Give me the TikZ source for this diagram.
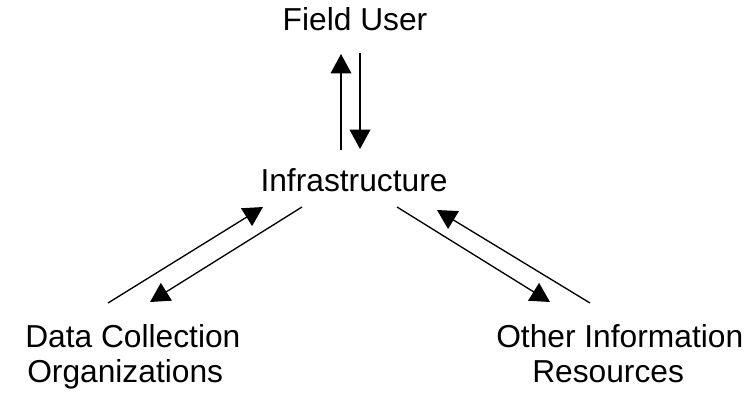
\documentclass[tikz,border=0pt]{standalone}
\usepackage{fontspec}
\setmainfont{Liberation Sans}
\usetikzlibrary{arrows.meta}

\tikzset{
	lbl/.style={inner sep=0pt,font=\fontsize{23.8}{26.25}\selectfont},
	flow/.style={line width=1pt,-{Triangle[length=14.5pt,width=15.5pt]}}
}

\begin{document}
\begin{tikzpicture}[x=0.75pt,y=-0.75pt]
		\useasboundingbox (0,0) rectangle (746,396);
		% texts
		\node[lbl,anchor=base] (user) at (355,31) {Field User};
		\node[lbl,anchor=base] (infra) at (354,191) {Infrastructure};
		\node[lbl,anchor=north west,align=left] (dco) at (25,324) {Data Collection\\\hspace*{1.5pt}Organizations};
		\node[lbl,anchor=north west,align=left] (oir) at (496,324) {Other Information\\\hspace*{27pt}Resources};
		% arrow ends
		\coordinate (U0) at (341,150);
		\coordinate (U1) at (341,54);
		\coordinate (D0) at (360,53);
		\coordinate (D1) at (360,149);
		\coordinate (L0) at (108,303);
		\coordinate (L1) at (263,207);
		\coordinate (L2) at (302,207);
		\coordinate (L3) at (150,302);
		\coordinate (R0) at (397,207);
		\coordinate (R1) at (550,302);
		\coordinate (R2) at (590,303);
		\coordinate (R3) at (437,210);
		\foreach \a/\b in {U0/U1,D0/D1,L0/L1,L2/L3,R0/R1,R2/R3}
		\draw[flow] (\a) -- (\b);
	    \end{tikzpicture}
\end{document}
